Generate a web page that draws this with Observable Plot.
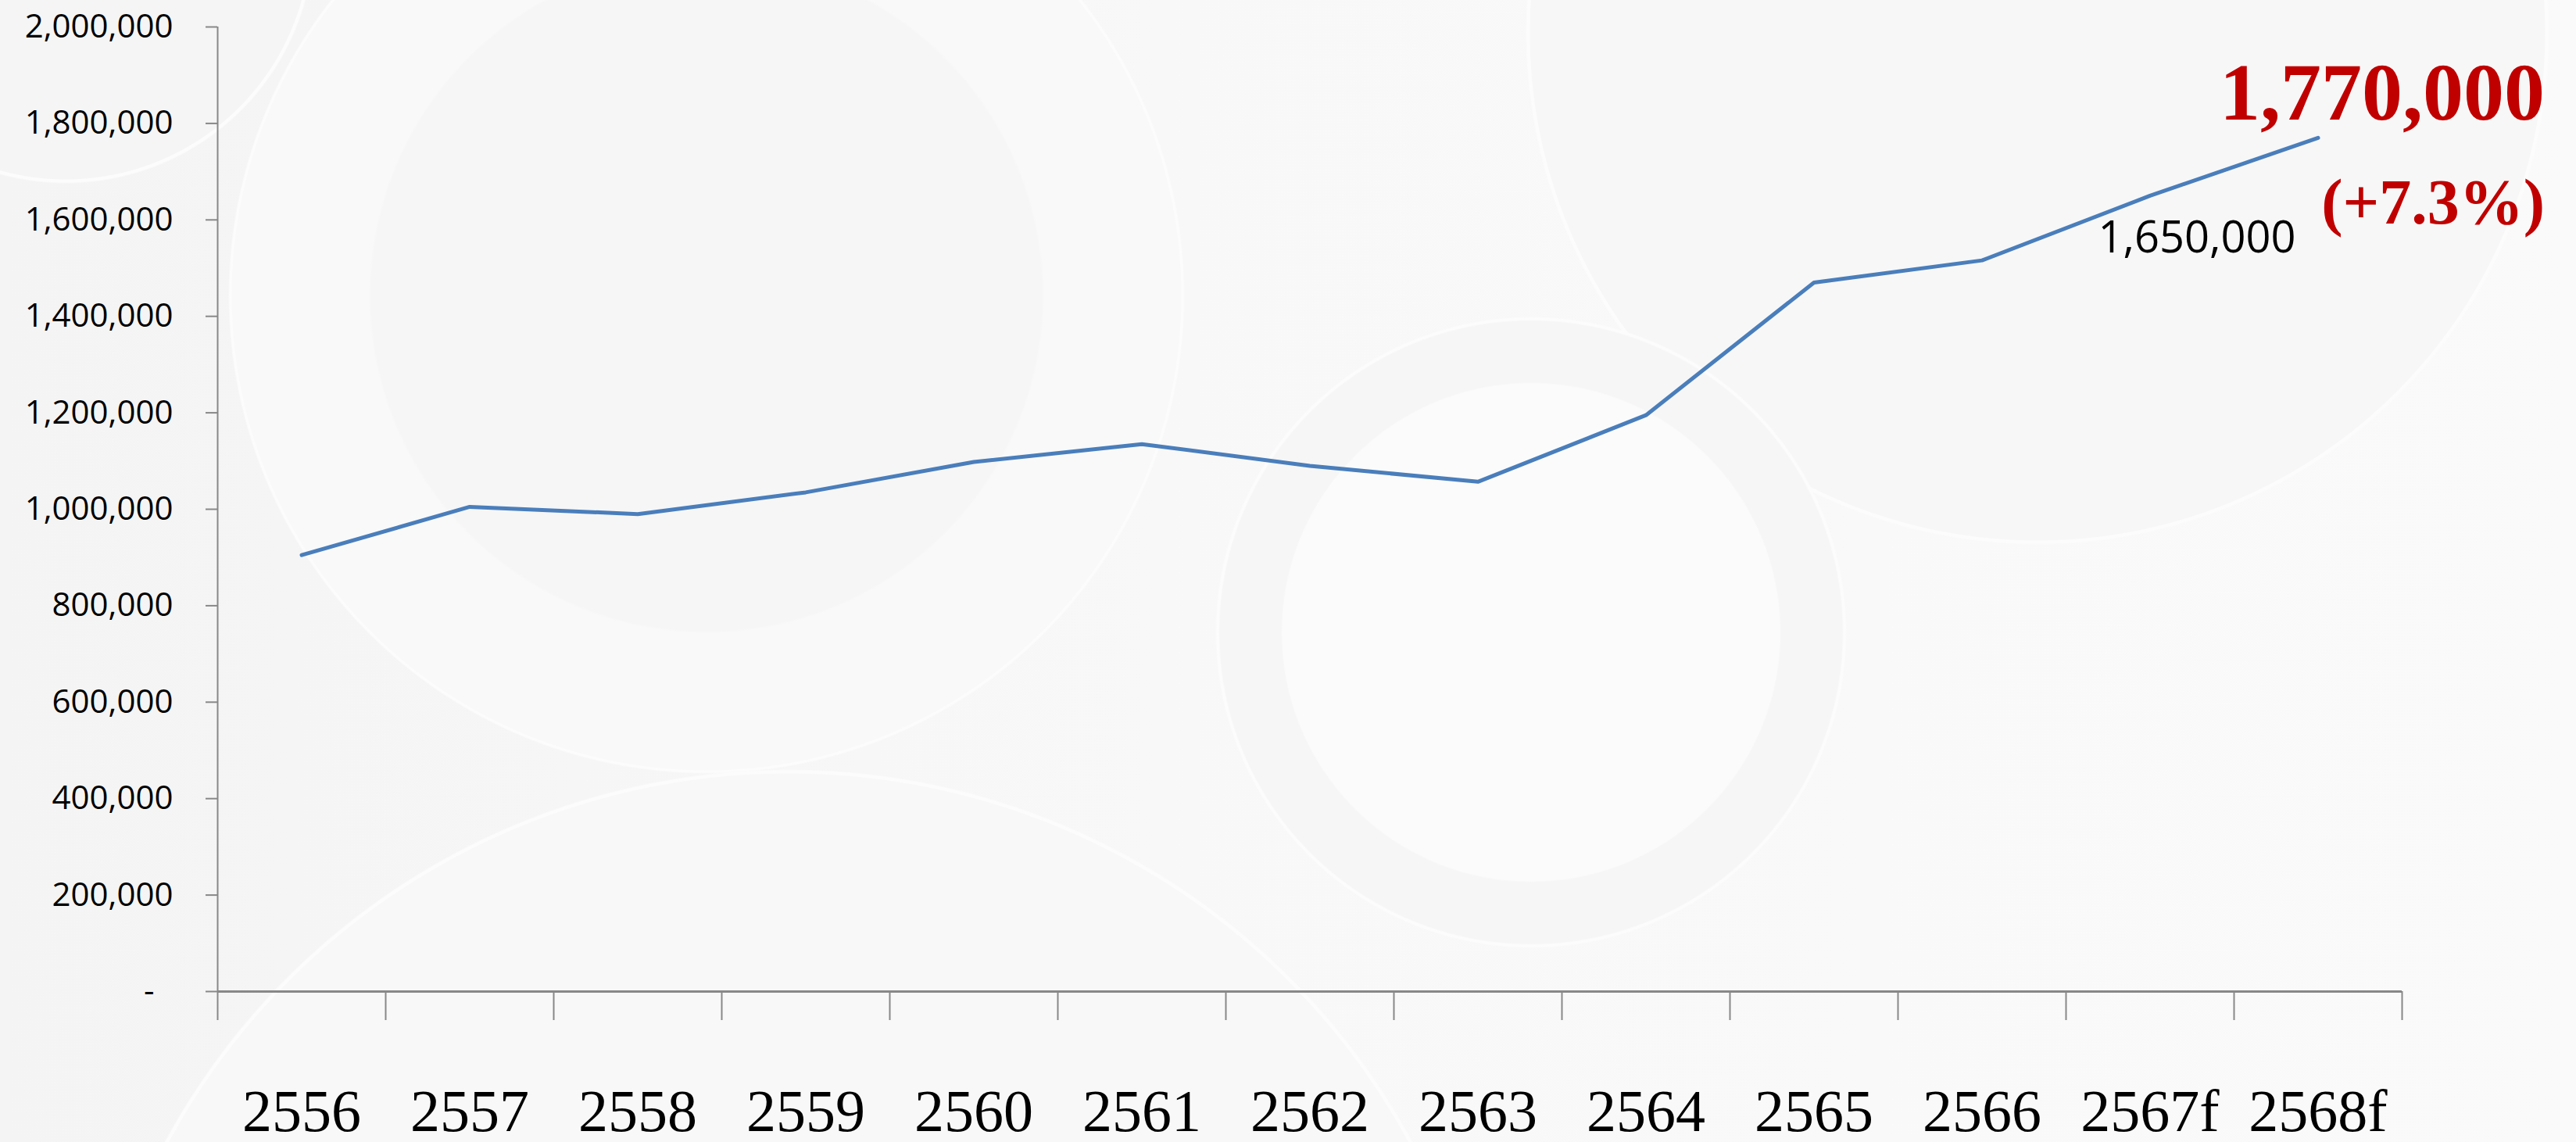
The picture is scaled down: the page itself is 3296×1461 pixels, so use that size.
<!DOCTYPE html>
<html>
<head>
<meta charset="utf-8">
<script src="https://cdn.jsdelivr.net/npm/d3@7"></script>
<script src="https://cdn.jsdelivr.net/npm/@observablehq/plot@0.6"></script>
<style>
  html, body { margin: 0; padding: 0; overflow: hidden; }
  body {
    width: 3296px; height: 1461px;
    background-color: #f6f6f6;
    background-image:
      radial-gradient(circle at 1959px 809px, #fbfbfb 0 318px, #f6f6f6 320px 398px, #fcfcfc 400px 402px, transparent 404px),
      radial-gradient(circle at 904px 378px, #f6f6f6 0 429px, #f9f9f9 432px 607px, #fcfcfc 608px 610px, transparent 612px),
      radial-gradient(circle at 2607px 42px, #f7f7f7 0 649px, #fcfcfc 650px 653px, transparent 655px),
      radial-gradient(circle at 84px -84px, #f5f5f5 0 313px, #fcfcfc 314px 317px, transparent 319px),
      radial-gradient(circle at 1009px 1892px, #f8f8f8 0 902px, #fcfcfc 903px 906px, transparent 908px),
      linear-gradient(90deg, #f4f4f4 0%, #f8f8f8 45%, #fafafa 100%);
  }
  #chart svg { display: block; }
</style>
</head>
<body>
<div id="chart"></div>
<script>
const years = ["2556","2557","2558","2559","2560","2561","2562","2563","2564","2565","2566","2567f","2568f"];
const values = [905000, 1005000, 990000, 1035000, 1098000, 1135000, 1090000, 1057000, 1195000, 1470000, 1516000, 1650000, 1770000];
const yTicks = [0, 200000, 400000, 600000, 800000, 1000000, 1200000, 1400000, 1600000, 1800000, 2000000];
const labelPrev = { year: "2567f", value: 1650000, text: "1,650,000" };
const labelLast = { year: "2568f", value: 1770000, text: "1,770,000", growth: "(+7.3%)" };

const data = years.map((y, i) => ({ i, year: y, value: values[i] }));
const boundaries = d3.range(years.length + 1).map(i => i - 0.5);
const fmt = d3.format(",");
const idx = y => years.indexOf(y);

const chart = Plot.plot({
  width: 3296,
  height: 1461,
  marginLeft: 278,
  marginRight: 223,
  marginTop: 34,
  marginBottom: 193,
  style: { background: "transparent", fontFamily: "'Open Sans', sans-serif", overflow: "visible" },
  x: { type: "linear", domain: [-0.5, years.length - 0.5] },
  y: { domain: [0, 2000000] },
  marks: [
    Plot.axisY({
      ticks: yTicks, tickSize: 15, tickPadding: 42,
      tickFormat: d => d === 0 ? "-\u2007" : fmt(d),
      fontSize: 42, fontFamily: "'Open Sans', sans-serif",
      stroke: "#888", strokeWidth: 2, fill: "#000", label: null
    }),
    Plot.axisX({
      ticks: boundaries, tickSize: 37, tickFormat: () => "",
      stroke: "#888", strokeWidth: 2, label: null
    }),
    Plot.axisX({
      ticks: d3.range(years.length), tickSize: 0, tickPadding: 125,
      tickFormat: i => years[i],
      fontSize: 76, fontFamily: "'Liberation Serif', 'Times New Roman', serif",
      fill: "#000", label: null
    }),
    Plot.ruleX([boundaries[0]], { stroke: "#888", strokeWidth: 2 }),
    Plot.ruleY([0], { stroke: "#888", strokeWidth: 3 }),
    Plot.line(data, { x: "i", y: "value", stroke: "#4A7EBB", strokeWidth: 5, strokeLinejoin: "miter" }),
    Plot.text([labelPrev], {
      x: d => idx(d.year), y: "value", text: "text",
      dx: 60, dy: 55, fontSize: 56, fill: "#000",
      fontFamily: "'Open Sans', sans-serif"
    }),
    Plot.text([labelLast], {
      x: d => idx(d.year), y: "value", text: "text",
      dx: 290, dy: -57, textAnchor: "end", fontSize: 104, fontWeight: "bold",
      fill: "#C00000", fontFamily: "'Liberation Serif', 'Times New Roman', serif"
    }),
    Plot.text([labelLast], {
      x: d => idx(d.year), y: "value", text: "growth",
      dx: 290, dy: 83, textAnchor: "end", fontSize: 82, fontWeight: "bold",
      fill: "#C00000", fontFamily: "'Liberation Serif', 'Times New Roman', serif"
    })
  ]
});
document.getElementById("chart").appendChild(chart);
</script>
</body>
</html>
